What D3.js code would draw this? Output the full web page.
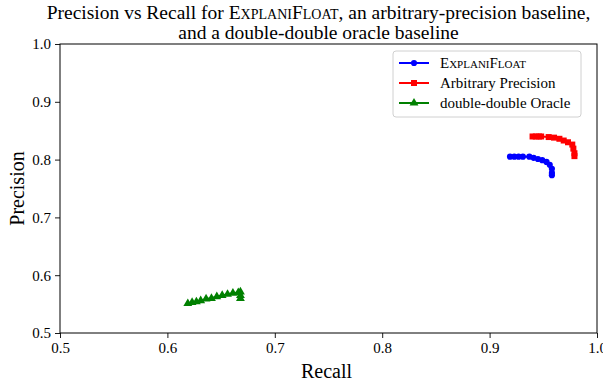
<!doctype html>
<html lang="en">
<head>
<meta charset="UTF-8">
<title>Precision vs Recall</title>
<style>
  body { margin: 0; background: #fff; }
</style>
</head>
<body>
<div id="chart"></div>
<script src="https://d3js.org/d3.v7.min.js"></script>
<script>
  // data
  const explaniRecall = [0.919, 0.923, 0.927, 0.931, 0.937, 0.941, 0.945, 0.949, 0.953, 0.956, 0.958, 0.958, 0.958]
  const explaniPrecision = [0.805, 0.805, 0.805, 0.805, 0.805, 0.803, 0.801, 0.799, 0.796, 0.791, 0.784, 0.777, 0.773]

  const arbRecall = [0.940, 0.943, 0.946, 0.948, 0.955, 0.960, 0.965, 0.969, 0.973, 0.977, 0.978, 0.979, 0.979]
  const arbPrecision = [0.840, 0.840, 0.840, 0.840, 0.839, 0.838, 0.836, 0.833, 0.830, 0.826, 0.819, 0.811, 0.806]

  const ddRecall = [0.619, 0.623, 0.627, 0.631, 0.636, 0.641, 0.646, 0.651, 0.656, 0.661, 0.666, 0.668, 0.668, 0.668]
  const ddPrecision = [0.551, 0.553, 0.554, 0.556, 0.559, 0.560, 0.563, 0.565, 0.567, 0.569, 0.570, 0.571, 0.565, 0.560]

  const xTicks = [0.5, 0.6, 0.7, 0.8, 0.9, 1.0]
  const yTicks = [0.5, 0.6, 0.7, 0.8, 0.9, 1.0]

  const series = [
    {name: 'ExplaniFloat', small: true, color: '#0000ff', marker: 'circle', x: explaniRecall, y: explaniPrecision},
    {name: 'Arbitrary Precision', color: '#ff0000', marker: 'square', x: arbRecall, y: arbPrecision},
    {name: 'double-double Oracle', color: '#008000', marker: 'triangle', x: ddRecall, y: ddPrecision}
  ]

  const font = '"Liberation Serif", "Times New Roman", serif'
  const width = 603
  const height = 383
  const margin = {left: 60, right: 6, top: 44, bottom: 50}

  const svg = d3.select('#chart')
    .append('svg')
    .attr('width', width)
    .attr('height', height)

  const x = d3.scaleLinear().domain([0.5, 1.0]).range([margin.left, width - margin.right])
  const y = d3.scaleLinear().domain([0.5, 1.0]).range([height - margin.bottom, margin.top])

  // title
  const title = svg.append('text')
    .attr('text-anchor', 'middle')
    .style('font-family', font)
    .style('font-size', '19.5px')
  const l1 = title.append('tspan').attr('x', (margin.left + width - margin.right) / 2 - 10).attr('y', 19)
  l1.append('tspan').text('Precision vs Recall for ')
  l1.append('tspan').style('font-variant', 'small-caps').text('ExplaniFloat')
  l1.append('tspan').text(', an arbitrary-precision baseline,')
  title.append('tspan').attr('x', (margin.left + width - margin.right) / 2 - 10).attr('y', 38.5)
    .text('and a double-double oracle baseline')

  // axes
  svg.append('g')
    .attr('transform', `translate(0, ${height - margin.bottom})`)
    .call(d3.axisBottom(x).tickValues(xTicks).tickFormat(d3.format('.1f')).tickSize(5).tickPadding(4))
    .call(g => g.select('.domain').remove())

  svg.append('g')
    .attr('transform', `translate(${margin.left}, 0)`)
    .call(d3.axisLeft(y).tickValues(yTicks).tickFormat(d3.format('.1f')).tickSize(5).tickPadding(4))
    .call(g => g.select('.domain').remove())

  svg.selectAll('.tick line').attr('stroke', '#000').attr('stroke-width', 0.9)
  svg.selectAll('.tick text')
    .style('font-family', font)
    .style('font-size', '15px')
    .attr('fill', '#000')

  svg.append('rect')
    .attr('x', margin.left)
    .attr('y', margin.top)
    .attr('width', width - margin.left - margin.right)
    .attr('height', height - margin.top - margin.bottom)
    .attr('fill', 'none')
    .attr('stroke', '#000')
    .attr('stroke-width', 1)

  svg.append('text')
    .attr('x', (margin.left + width - margin.right) / 2 - 2)
    .attr('y', 378)
    .attr('text-anchor', 'middle')
    .style('font-family', font)
    .style('font-size', '20px')
    .text('Recall')

  svg.append('text')
    .attr('transform', `translate(24, ${(margin.top + height - margin.bottom) / 2}) rotate(-90)`)
    .attr('text-anchor', 'middle')
    .style('font-family', font)
    .style('font-size', '20px')
    .text('Precision')

  const symbolFor = m => {
    if (m === 'circle') return d3.symbol(d3.symbolCircle, 30)
    if (m === 'square') return d3.symbol(d3.symbolSquare, 36)
    return d3.symbol(d3.symbolTriangle, 34)
  }

  const line = d3.line().x(d => x(d[0])).y(d => y(d[1]))

  series.forEach(s => {
    const pts = s.x.map((v, i) => [v, s.y[i]])
    const g = svg.append('g')
    g.append('path')
      .attr('d', line(pts))
      .attr('fill', 'none')
      .attr('stroke', s.color)
      .attr('stroke-width', 2)
    g.selectAll('path.mark')
      .data(pts)
      .enter()
      .append('path')
      .attr('class', 'mark')
      .attr('d', symbolFor(s.marker))
      .attr('transform', d => `translate(${x(d[0])}, ${y(d[1])})`)
      .attr('fill', s.color)
  })

  // legend
  const legend = svg.append('g').attr('transform', 'translate(393, 51)')
  legend.append('rect')
    .attr('width', 188)
    .attr('height', 66)
    .attr('rx', 3)
    .attr('fill', '#fff')
    .attr('fill-opacity', 0.8)
    .attr('stroke', '#d0d0d0')

  series.forEach((s, i) => {
    const row = legend.append('g').attr('transform', `translate(0, ${12 + i * 20})`)
    row.append('line')
      .attr('x1', 6).attr('x2', 36)
      .attr('stroke', s.color)
      .attr('stroke-width', 2)
    row.append('path')
      .attr('d', symbolFor(s.marker))
      .attr('transform', 'translate(21, 0)')
      .attr('fill', s.color)
    row.append('text')
      .attr('x', 47)
      .attr('y', 5)
      .style('font-family', font)
      .style('font-size', '15px')
      .style('font-variant', s.small ? 'small-caps' : 'normal')
      .text(s.name)
  })
</script>
</body>
</html>
